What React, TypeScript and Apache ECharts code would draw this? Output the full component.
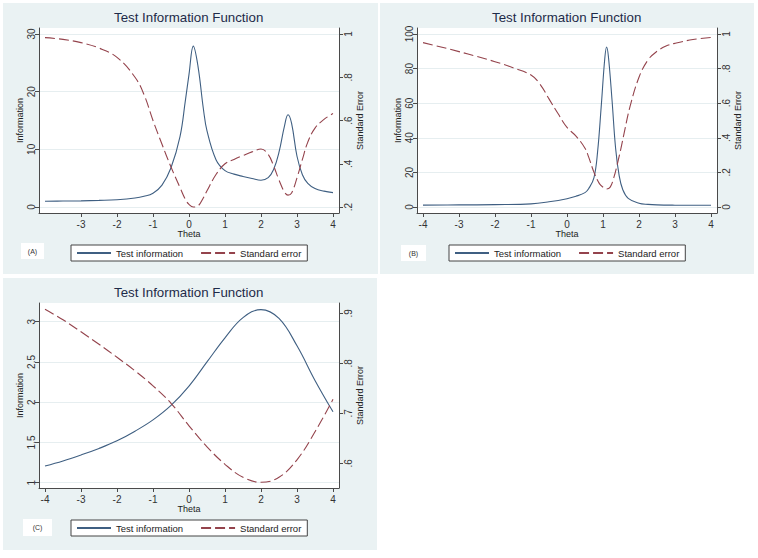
import React, { useEffect, useRef } from "react";
import * as echarts from "echarts";

// ---------- data ----------
const titleText = "Test Information Function";
const legendNames = ["Test information", "Standard error"];
const panelLabels = ["(A)", "(B)", "(C)"];

const thetaInfoA = [-4, -3.5, -3, -2.5, -2, -1.5, -1.25, -1, -0.75, -0.5, -0.25, -0.1, 0, 0.12, 0.25, 0.4, 0.5, 0.75, 1, 1.25, 1.5, 1.75, 2, 2.2, 2.35, 2.5, 2.65, 2.75, 2.85, 3, 3.15, 3.3, 3.5, 3.75, 4];
const infoA = [1.0, 1.03, 1.07, 1.15, 1.27, 1.55, 1.85, 2.4, 3.8, 6.8, 12.2, 18.5, 23.0, 27.9, 24.4, 17.0, 13.2, 8.2, 6.3, 5.7, 5.3, 4.95, 4.65, 5.1, 6.5, 9.5, 14.0, 16.0, 14.5, 8.8, 5.6, 4.1, 3.2, 2.75, 2.5];
const seA = [0.983, 0.975, 0.96, 0.935, 0.892, 0.8, 0.72, 0.6, 0.49, 0.385, 0.29, 0.235, 0.212, 0.2, 0.205, 0.243, 0.275, 0.35, 0.4, 0.42, 0.438, 0.455, 0.468, 0.443, 0.39, 0.325, 0.27, 0.255, 0.265, 0.335, 0.42, 0.5, 0.565, 0.605, 0.632];

const thetaInfoB = [-4, -3, -2, -1, -0.5, 0, 0.25, 0.5, 0.6, 0.75, 0.85, 0.95, 1.05, 1.1, 1.15, 1.25, 1.35, 1.45, 1.55, 1.7, 2, 2.25, 2.5, 3, 3.5, 4];
const infoB = [1.1, 1.2, 1.35, 1.8, 3.0, 4.8, 6.2, 8.3, 10.5, 17, 32, 58, 86, 92.5, 87, 62, 34, 18, 10, 5, 2.2, 1.5, 1.2, 1.05, 1.02, 1.0];
const thetaSeB = [-4, -3.5, -3, -2.5, -2, -1.5, -1, -0.75, -0.5, -0.25, 0, 0.25, 0.5, 0.6, 0.75, 0.9, 1.0, 1.1, 1.2, 1.3, 1.4, 1.5, 1.6, 1.75, 2, 2.25, 2.5, 2.75, 3, 3.5, 4];
const seB = [0.95, 0.925, 0.898, 0.87, 0.84, 0.805, 0.763, 0.71, 0.625, 0.54, 0.46, 0.41, 0.34, 0.29, 0.2, 0.135, 0.115, 0.104, 0.115, 0.17, 0.25, 0.34, 0.44, 0.58, 0.75, 0.85, 0.9, 0.93, 0.946, 0.968, 0.98];

const thetaC = [-4, -3.5, -3, -2.5, -2, -1.5, -1, -0.5, 0, 0.5, 1, 1.5, 2, 2.5, 3, 3.5, 4];
const infoC = [1.207, 1.27, 1.344, 1.425, 1.52, 1.64, 1.78, 1.96, 2.2, 2.5, 2.8, 3.05, 3.15, 3.04, 2.7, 2.27, 1.88];
const seC = [0.908, 0.887, 0.863, 0.838, 0.812, 0.785, 0.755, 0.72, 0.675, 0.633, 0.598, 0.572, 0.562, 0.572, 0.607, 0.663, 0.728];

const xTicksA = [-3, -2, -1, 0, 1, 2, 3, 4];
const xTicksBC = [-4, -3, -2, -1, 0, 1, 2, 3, 4];
const infoTicksA = [0, 10, 20, 30];
const seTicksA = [0.2, 0.4, 0.6, 0.8, 1];
const infoTicksB = [0, 20, 40, 60, 80, 100];
const seTicksB = [0, 0.2, 0.4, 0.6, 0.8, 1];
const infoTicksC = [1, 1.5, 2, 2.5, 3];
const seTicksC = [0.6, 0.7, 0.8, 0.9];

// ---------- layout ----------
const FONT = '"Liberation Sans", Arial, Helvetica, sans-serif';
const NAVY = "#3f5f82";
const MAROON = "#94434c";
const PANEL_BG = "#eaf2f3";
const AXIS = "#4a4a4a";

const zip = (xs: number[], ys: number[]) => xs.map((x, i) => [x, ys[i]]);
const stataFmt = (v: number) => {
  const s = String(+Number(v).toFixed(4));
  return s.replace(/^0\./, ".").replace(/^-0\./, "-.");
};

const panels = [
  {
    ox: 0, oy: 0, bg: [3, 3, 375, 271], lab: [21, 243, 23, 16],
    xTicks: xTicksA, infoTicks: infoTicksA, seTicks: seTicksA,
    infoRange: [-1.04, 31.04], seRange: [0.1723, 1.0277],
    info: zip(thetaInfoA, infoA), se: zip(thetaInfoA, seA),
  },
  {
    ox: 378, oy: 0, bg: [380, 3, 374, 271], lab: [401, 245, 25, 16],
    xTicks: xTicksBC, infoTicks: infoTicksB, seTicks: seTicksB,
    infoRange: [-3.47, 103.47], seRange: [-0.0347, 1.0347],
    info: zip(thetaInfoB, infoB), se: zip(thetaSeB, seB),
  },
  {
    ox: 0, oy: 275, bg: [3, 278, 374, 272], lab: [23, 519, 29, 17],
    xTicks: xTicksBC, infoTicks: infoTicksC, seTicks: seTicksC,
    infoRange: [0.934, 3.232], seRange: [0.5506, 0.9206],
    info: zip(thetaC, infoC), se: zip(thetaC, seC),
  },
];

export default function App() {
  const ref = useRef<HTMLDivElement>(null);

  useEffect(() => {
    if (!ref.current) return;
    const chart = echarts.init(ref.current, undefined, { renderer: "svg" });

    const axisLine = { show: true, onZero: false, lineStyle: { color: AXIS, width: 1 } };
    const labelStyle = { fontSize: 10, color: "#333", fontFamily: FONT };
    const nameStyle = { fontSize: 9, color: "#222", fontFamily: FONT };

    const option: any = {
      animation: false,
      backgroundColor: "#ffffff",
      title: panels.map((p) => ({
        text: titleText,
        left: p.ox + 114,
        top: p.oy + 11,
        padding: 0,
        textStyle: { fontSize: 13.3, fontWeight: "normal", color: "#1e2b49", fontFamily: FONT },
      })),
      grid: panels.map((p) => ({
        left: p.ox + 39, top: p.oy + 28, width: 300, height: 185,
        show: true, backgroundColor: "#ffffff", borderWidth: 0,
      })),
      xAxis: panels.map((p, i) => ({
        type: "value", gridIndex: i, min: -4.1667, max: 4.1667,
        name: "Theta", nameLocation: "middle", nameGap: 15, nameTextStyle: nameStyle,
        axisLine,
        axisTick: { show: true, length: 4, customValues: p.xTicks, lineStyle: { color: AXIS } },
        axisLabel: { ...labelStyle, customValues: p.xTicks, margin: 6, formatter: stataFmt },
        splitLine: { show: false },
      })),
      yAxis: panels.flatMap((p, i) => [
        {
          type: "value", gridIndex: i, position: "left",
          min: p.infoRange[0], max: p.infoRange[1],
          name: "Information", nameLocation: "middle", nameRotate: 90, nameGap: 15, nameTextStyle: nameStyle,
          axisLine,
          axisTick: { show: true, length: 4, customValues: p.infoTicks, lineStyle: { color: AXIS } },
          axisLabel: { ...labelStyle, customValues: p.infoTicks, rotate: 90, margin: 3, formatter: stataFmt },
          splitLine: { show: true, lineStyle: { color: "#e6eef0", width: 1 } },
        },
        {
          type: "value", gridIndex: i, position: "right",
          min: p.seRange[0], max: p.seRange[1],
          name: "Standard Error", nameLocation: "middle", nameRotate: 90, nameGap: 16, nameTextStyle: nameStyle,
          axisLine,
          axisTick: { show: true, length: 4, customValues: p.seTicks, lineStyle: { color: AXIS } },
          axisLabel: { ...labelStyle, customValues: p.seTicks, rotate: 90, margin: 4, formatter: stataFmt },
          splitLine: { show: false },
        },
      ]),
      legend: panels.map((p) => ({
        data: legendNames,
        left: p.ox + 71, top: p.oy + 245,
        orient: "horizontal",
        itemWidth: 34, itemHeight: 10, itemGap: 17,
        padding: [3, 6, 3, 5],
        backgroundColor: "#ffffff", borderColor: "#444", borderWidth: 1, borderRadius: 0,
        textStyle: { fontSize: 9.5, color: "#222", fontFamily: FONT },
        itemStyle: { opacity: 0 },
        selectedMode: false,
      })),
      series: panels.flatMap((p, i) => [
        {
          type: "line", name: legendNames[0], xAxisIndex: i, yAxisIndex: 2 * i,
          data: p.info, smooth: 0.4, symbol: "none",
          lineStyle: { color: NAVY, width: 1.1 }, itemStyle: { color: NAVY },
        },
        {
          type: "line", name: legendNames[1], xAxisIndex: i, yAxisIndex: 2 * i + 1,
          data: p.se, smooth: 0.4, symbol: "none",
          lineStyle: { color: MAROON, width: 1.1, type: [10, 4] }, itemStyle: { color: MAROON },
        },
      ]),
      graphic: {
        elements: [
          ...panels.map((p) => ({
            type: "rect", z: -100, silent: true,
            shape: { x: p.bg[0], y: p.bg[1], width: p.bg[2], height: p.bg[3] },
            style: { fill: PANEL_BG },
          })),
          ...panels.map((p, i) => ({
            type: "group", z: 100,
            children: [
              {
                type: "rect",
                shape: { x: p.lab[0], y: p.lab[1], width: p.lab[2], height: p.lab[3] },
                style: { fill: "#ffffff" },
              },
              {
                type: "text",
                x: p.lab[0] + p.lab[2] / 2, y: p.lab[1] + p.lab[3] / 2,
                style: {
                  text: panelLabels[i], fontSize: 7, fill: "#333", fontFamily: FONT,
                  textAlign: "center", textVerticalAlign: "middle",
                },
              },
            ],
          })),
        ],
      },
    };

    chart.setOption(option);
    return () => chart.dispose();
  }, []);

  return (
    <div
      ref={ref}
      style={{ position: "fixed", left: 0, top: 0, width: 758, height: 558 }}
    />
  );
}
